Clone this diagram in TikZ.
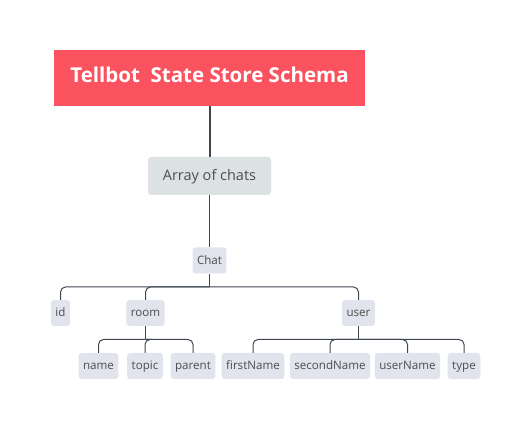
\documentclass[tikz,border=0pt]{standalone}
\usepackage{fontspec}
\setmainfont{Open Sans}

\definecolor{titlered}{RGB}{250,83,95}
\definecolor{arrgray}{RGB}{220,226,227}
\definecolor{leafgray}{RGB}{225,228,236}
\definecolor{linkdark}{RGB}{62,70,80}
\definecolor{textdark}{RGB}{77,77,77}

\begin{document}
\begin{tikzpicture}[x=1pt, y=-1pt,
    leaf/.style={fill=leafgray, rounded corners=3pt, minimum height=26pt, inner xsep=4.5pt, text height=0.78em, text depth=0pt, text=textdark, font=\fontsize{11.6}{13}\selectfont},
    bus/.style={linkdark, line width=1pt, rounded corners=5pt},
    stem/.style={linkdark, line width=1.6pt}]
        \useasboundingbox (0,0) rectangle (531,430);

        % Draw title and first levels
        \node[fill=titlered, minimum width=311pt, minimum height=56pt, text height=0.86em, text depth=0pt, text=white, font=\bfseries\fontsize{20.5}{24}\selectfont] (title) at (209.5,78) {Tellbot\ \ State Store Schema};
        \node[fill=arrgray, rounded corners=3pt, minimum width=123pt, minimum height=38pt, text height=0.86em, text depth=0pt, text=textdark, font=\fontsize{14.5}{17}\selectfont] (arr) at (209.5,176) {Array of chats};
        \node[leaf] (chat) at (209.5,260.5) {Chat};

        % Draw fields of a chat
        \foreach \n/\x in {id/60.5, room/145.5, user/358.5} {
            \node[leaf] (\n) at (\x,313) {\n};
        }

        % Draw fields of room and user
        \foreach \n/\x in {name/98.5, topic/145, parent/193, firstName/253, secondName/330, userName/407.5, type/464} {
            \node[leaf] (\n) at (\x,366) {\n};
        }

        % Bus points
        \coordinate (chatbus) at (209.5,287);
        \coordinate (roombus) at (145.5,339.5);
        \coordinate (userbus) at (358.5,339.5);

        % Connectors
        \draw[linkdark, line width=2pt] (title) -- (arr);
        \draw[linkdark, line width=1pt] (arr) -- (chat);
        \draw[linkdark, line width=1pt] (chat.south) -- (chatbus);
        \foreach \n in {id, room, user} {
            \draw[bus] (chatbus) -| (\n.north);
        }
        \draw[stem] (room.south) -- (roombus);
        \foreach \n in {name, topic, parent} {
            \draw[bus] (roombus) -| (\n.north);
        }
        \draw[stem] (user.south) -- (userbus);
        \foreach \n in {firstName, secondName, userName, type} {
            \draw[bus] (userbus) -| (\n.north);
        }
    \end{tikzpicture}
\end{document}
